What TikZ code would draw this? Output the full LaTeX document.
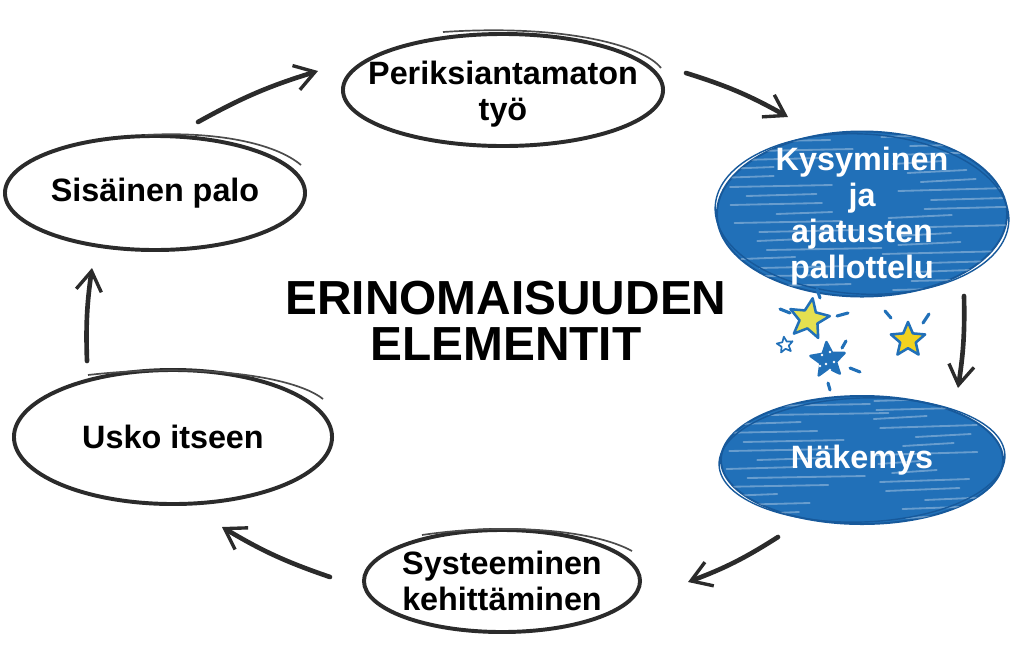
\documentclass[tikz,border=0pt]{standalone}
\usepackage{fontspec}
\setmainfont{Liberation Sans}
\usetikzlibrary{shapes.geometric,arrows.meta,calc}
\definecolor{ink}{HTML}{2B2B2B}
\definecolor{sky}{HTML}{2170B8}
\definecolor{skydark}{HTML}{17599B}
\definecolor{starY}{HTML}{F1D21E}
\definecolor{starG}{HTML}{E4E050}

\begin{document}
\begin{tikzpicture}[x=0.025cm,y=-0.025cm,
  bub/.style={ellipse, draw=ink, line width=2.8pt, fill=white, inner sep=0pt},
  blob/.style={ellipse, draw=skydark, line width=1.4pt, fill=sky, inner sep=0pt},
  lbl/.style={font=\bfseries\fontsize{23}{26}\selectfont, align=center, text=black, inner sep=0pt},
  wlbl/.style={lbl, text=white},
  arr/.style={draw=ink, line width=3.3pt, line cap=round,
    -{Straight Barb[length=14pt,width=18pt,line width=2.4pt]}},
  swoosh/.style={draw=ink!85, line width=1.2pt},
  streak/.style={draw=white, opacity=.32, line width=1.3pt, line cap=round},
  ystar/.style={star, star points=5, star point ratio=2.2, inner sep=0pt,
    draw=sky, line width=1.8pt, line join=round},
  flick/.style={draw=sky, line width=2.2pt, line cap=round}
]
\useasboundingbox (0,0) rectangle (1020,646);

% ---- white bubbles ----
\node[bub, minimum width=8cm,  minimum height=2.8cm]  (per) at (503,90)  {};
\node[bub, minimum width=6.9cm, minimum height=2.55cm] (sys) at (502,581) {};
\node[bub, minimum width=7.95cm,minimum height=3.35cm] (usk) at (173,437) {};
\node[bub, minimum width=7.5cm, minimum height=2.85cm] (sis) at (155,193) {};

% extra pen strokes along the upper rims
\draw[swoosh] ($(per.center)+(-60,-58)$) .. controls ($(per.center)+(60,-66)$) and ($(per.center)+(140,-45)$) .. ($(per.center)+(158,-22)$);
\draw[swoosh] ($(usk.center)+(-85,-62)$) .. controls ($(usk.center)+(20,-74)$) and ($(usk.center)+(120,-62)$) .. ($(usk.center)+(150,-38)$);
\draw[swoosh] ($(sis.center)+(-10,-58)$) .. controls ($(sis.center)+(60,-62)$) and ($(sis.center)+(120,-50)$) .. ($(sis.center)+(146,-28)$);
\draw[swoosh] ($(sys.center)+(-80,-46)$) .. controls ($(sys.center)+(0,-58)$) and ($(sys.center)+(90,-52)$) .. ($(sys.center)+(130,-30)$);

% ---- blue scribbled bubbles ----
\node[blob, minimum width=7.25cm, minimum height=4.125cm] (kys) at (862,214) {};
\node[blob, minimum width=7.05cm, minimum height=3.2cm]   (nak) at (862,460) {};

\pgfmathsetseed{7}
\begin{scope}
  \clip (kys.center) ellipse [x radius=145, y radius=82.5];
  \foreach \k in {-9,...,9} {
    \pgfmathsetmacro\xa{-150+70*rnd}
    \pgfmathsetmacro\la{40+80*rnd}
    \pgfmathsetmacro\xb{10+60*rnd}
    \pgfmathsetmacro\lb{40+90*rnd}
    \draw[streak] ($(kys.center)+(\xa,\k*9)$) -- ++(\la,-2);
    \draw[streak] ($(kys.center)+(\xb,\k*9+4)$) -- ++(\lb,-3);
  }
\end{scope}
\begin{scope}
  \clip (nak.center) ellipse [x radius=141, y radius=64];
  \foreach \k in {-7,...,7} {
    \pgfmathsetmacro\xa{-150+70*rnd}
    \pgfmathsetmacro\la{40+80*rnd}
    \pgfmathsetmacro\xb{10+60*rnd}
    \pgfmathsetmacro\lb{40+90*rnd}
    \draw[streak] ($(nak.center)+(\xa,\k*9)$) -- ++(\la,-2);
    \draw[streak] ($(nak.center)+(\xb,\k*9+4)$) -- ++(\lb,-3);
  }
\end{scope}
\draw[skydark, line width=1pt, rotate around={-3:(kys.center)}] (kys.center) ellipse [x radius=147, y radius=80];
\draw[skydark, line width=1pt, rotate around={2:(nak.center)}] (nak.center) ellipse [x radius=143, y radius=62];

% ---- labels ----
\node[lbl]  (tper) at ($(per)+(0,4)$) {Periksiantamaton\\työ};
\node[lbl]  (tsys) at (sys) {Systeeminen\\kehittäminen};
\node[lbl]  (tusk) at (usk) {Usko itseen};
\node[lbl]  (tsis) at (sis) {Sisäinen palo};
\node[wlbl, font=\bfseries\fontsize{23}{25.5}\selectfont] (tkys) at ($(kys)+(0,2)$) {Kysyminen\\ja\\ajatusten\\pallottelu};
\node[wlbl] (tnak) at (nak) {Näkemys};

\node[font=\bfseries\fontsize{34}{33}\selectfont, align=center, inner sep=0pt] (title) at (506,321) {ERINOMAISUUDEN\\ELEMENTIT};

% ---- stars ----
\node[ystar, fill=starG, minimum size=1.05cm, rotate=-10] (s1) at (809,319) {};
\node[ystar, fill=white, minimum size=0.42cm, line width=1.2pt, rotate=8] (s2) at (785,345) {};
\node[ystar, fill=sky, minimum size=0.9cm, rotate=5] (s3) at (828,360) {};
\node[ystar, fill=starY, minimum size=0.9cm] (s4) at (908,340) {};
\foreach \p in {(822,355),(830,352),(826,364),(834,362),(820,366),(830,370)}
  \fill[white] \p circle[radius=1.3];
\draw[flick] (817,289) -- (820,298);
\draw[flick] (780,309) -- (790,313);
\draw[flick] (837,316) -- (848,313);
\draw[flick] (885,311) -- (891,318);
\draw[flick] (929,314) -- (923,323);
\draw[flick] (846,341) -- (842,348);
\draw[flick] (850,368) -- (860,372);
\draw[flick] (828,383) -- (830,390);

% ---- cycle arrows ----
\coordinate (a1s) at (198,122); \coordinate (a1e) at (318,71);
\coordinate (a2s) at (686,73);  \coordinate (a2e) at (788,117);
\coordinate (a3s) at (964,296); \coordinate (a3e) at (958,388);
\coordinate (a4s) at (778,537); \coordinate (a4e) at (688,582);
\coordinate (a5s) at (330,577); \coordinate (a5e) at (222,527);
\coordinate (a6s) at (87,361);  \coordinate (a6e) at (92,268);
\draw[arr] (a1s) to[bend left=6]  (a1e);
\draw[arr] (a2s) to[bend left=6]  (a2e);
\draw[arr] (a3s) to[bend left=5]  (a3e);
\draw[arr] (a4s) to[bend left=6]  (a4e);
\draw[arr] (a5s) to[bend left=6]  (a5e);
\draw[arr] (a6s) to[bend left=5]  (a6e);
\end{tikzpicture}
\end{document}
